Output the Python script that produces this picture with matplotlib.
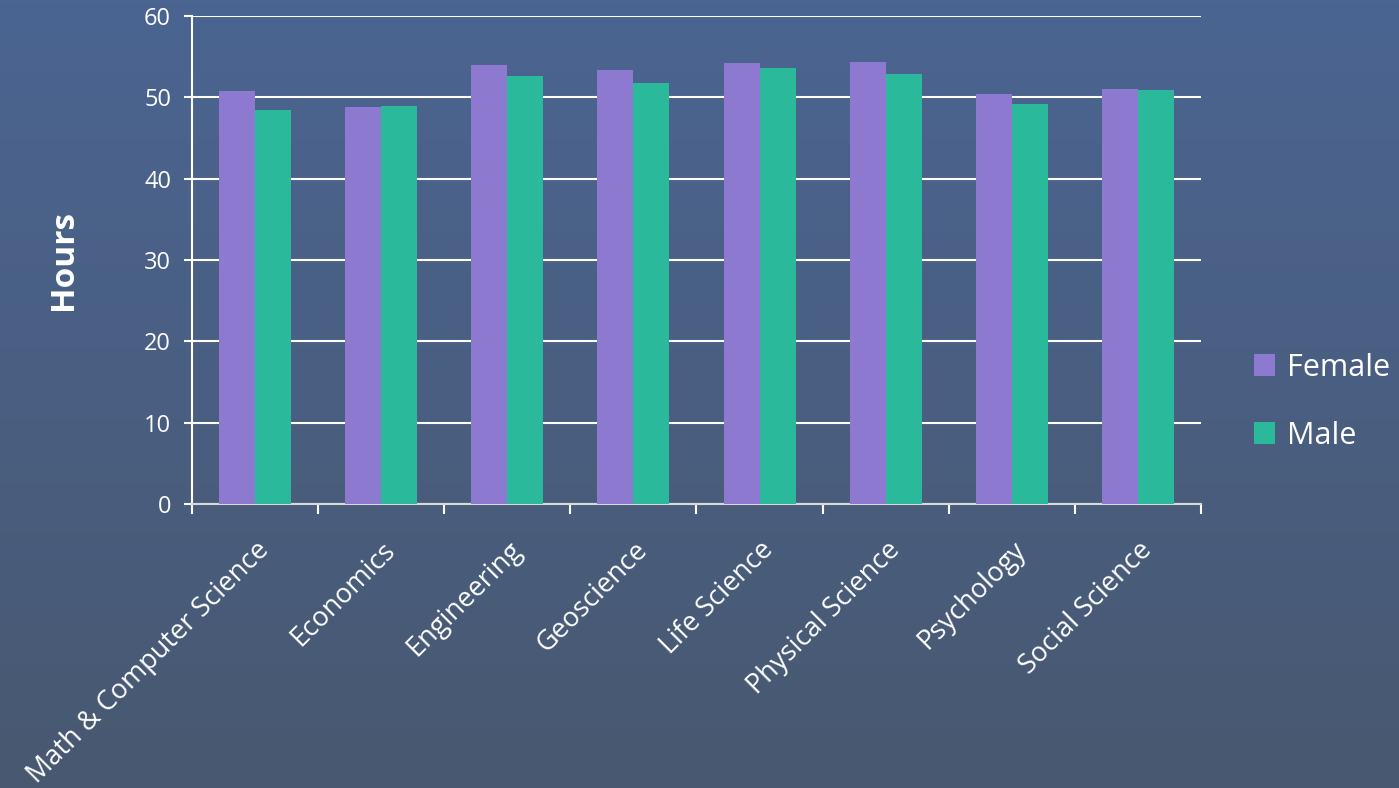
import numpy as np
import matplotlib.pyplot as plt

# -------- Data --------
fields = ["Math & Computer Science", "Economics", "Engineering", "Geoscience",
          "Life Science", "Physical Science", "Psychology", "Social Science"]
female = [50.8, 48.8, 54.0, 53.4, 54.2, 54.3, 50.4, 51.0]
male = [48.4, 48.9, 52.6, 51.8, 53.6, 52.9, 49.2, 50.9]

# -------- Style --------
plt.rcParams['font.family'] = ['Open Sans', 'DejaVu Sans']
c_female = "#8E79D1"
c_male = "#2BB99C"
white = "#FFFFFF"

fig = plt.figure(figsize=(13.99, 7.88), dpi=100)

# background gradient
bg = fig.add_axes([0, 0, 1, 1], zorder=-10)
top = np.array([75, 101, 146]) / 255
bot = np.array([72, 88, 112]) / 255
t = np.linspace(0, 1, 256)[:, None]
grad = top * (1 - t) + bot * t
bg.imshow(grad[:, None, :], aspect='auto', extent=[0, 1, 0, 1])
bg.axis('off')

ax = fig.add_axes([0.1372, 0.36, 0.7213, 0.62])
ax.patch.set_alpha(0)

x = np.arange(len(fields))
w = 0.285
ax.bar(x - w / 2, female, w, color=c_female, label="Female", zorder=3)
ax.bar(x + w / 2, male, w, color=c_male, label="Male", zorder=3)

ax.set_xlim(-0.5, len(fields) - 0.5)
ax.set_ylim(0, 60)
ax.set_yticks(range(0, 61, 10))
ax.grid(axis='y', color=white, linewidth=1.5, zorder=1)

for s in ['top', 'right']:
    ax.spines[s].set_visible(False)
ax.spines['left'].set_color(white)
ax.spines['left'].set_linewidth(1.5)
ax.spines['bottom'].set_color("#D9D9D9")
ax.spines['bottom'].set_linewidth(1.5)

ax.tick_params(axis='y', colors=white, labelsize=17, length=6, width=1.5, pad=9)
ax.set_xticks(x)
ax.set_xticklabels(fields, rotation=45, ha='right', rotation_mode='anchor',
                   fontsize=19.5, color=white)
ax.tick_params(axis='x', which='major', length=0, pad=23)
ax.set_xticks(np.arange(-0.5, len(fields)), minor=True)
ax.tick_params(axis='x', which='minor', length=7, width=1.5, color=white)

ax.set_ylabel("Hours", fontsize=24, fontweight='bold', color=white, labelpad=46)

leg = ax.legend(loc='center left', bbox_to_anchor=(1.025, 0.21), frameon=False,
                fontsize=22, handlelength=0.7, handleheight=0.7,
                handletextpad=0.4, labelspacing=1.25)
for txt in leg.get_texts():
    txt.set_color(white)

fig.savefig("out.png", dpi=100)
